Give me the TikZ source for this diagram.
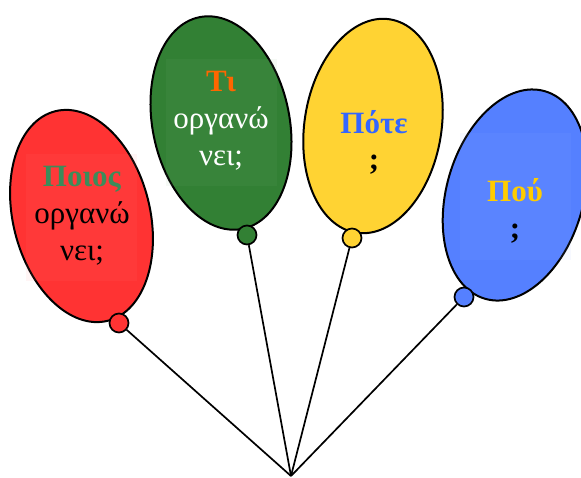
\documentclass[tikz,border=0pt]{standalone}
\usepackage{fontspec}
\setmainfont{Liberation Serif}
\usetikzlibrary{shapes.geometric}
\definecolor{balloonred}{RGB}{255,51,51}
\definecolor{balloongreen}{RGB}{50,128,52}
\definecolor{balloonyellow}{RGB}{255,211,51}
\definecolor{balloonblue}{RGB}{85,128,255}
\definecolor{whogreen}{RGB}{60,140,90}
\definecolor{whatorange}{RGB}{255,102,0}
\definecolor{whenblue}{RGB}{51,102,255}
\definecolor{wheregold}{RGB}{255,204,0}
\begin{document}
\begin{tikzpicture}[x=1pt, y=-1pt,
    balloon/.style={draw, ellipse, line width=2pt, inner sep=0pt, minimum width=137pt, minimum height=216pt},
    knot/.style={draw, circle, line width=1.7pt, inner sep=0pt, minimum size=19pt},
    string/.style={line width=1.7pt},
    textbox/.style={rectangle, inner sep=0pt, minimum width=111pt, minimum height=127pt, fill opacity=0.08},
    words/.style={align=center, inner sep=0pt, font=\fontsize{31}{37}\selectfont}]
        \useasboundingbox (0,0) rectangle (581,477);

        % Balloons
        \node[balloon, fill=balloonred, rotate=14] (who) at (81.5,216) {};
        \node[balloon, fill=balloongreen, rotate=11.5] (what) at (221,123) {};
        \node[balloon, fill=balloonyellow, rotate=-9] (when) at (373,126) {};
        \node[balloon, fill=balloonblue, rotate=-16] (where) at (515,195) {};

        % Faint text boxes
        \node[textbox, fill=balloonred!60] (whobox) at (81.5,217) {};
        \node[textbox, fill=balloongreen!60] (whatbox) at (221.5,122) {};
        \node[textbox, fill=balloonblue!60] (wherebox) at (515.5,196.5) {};

        % Knots
        \node[knot, fill=balloonred] (whoknot) at (119,323) {};
        \node[knot, fill=balloongreen] (whatknot) at (247,235) {};
        \node[knot, fill=balloonyellow] (whenknot) at (352,238) {};
        \node[knot, fill=balloonblue] (whereknot) at (464,297) {};

        % Questions
        \node[words] (whotext) at (82,216) {\textcolor{whogreen}{\textbf{Ποιος}}\\οργανώ\\νει;};
        \node[words, text=white] (whattext) at (221,121) {\textcolor{whatorange}{\textbf{Τι}}\\οργανώ\\νει;};
        \node[words, font=\fontsize{31}{36}\selectfont\bfseries] (whentext) at (374,142) {\textcolor{whenblue}{Πότε}\\;};
        \node[words, font=\fontsize{31}{37}\selectfont\bfseries] (wheretext) at (515,211) {\textcolor{wheregold}{Πού}\\;};

        % Strings
        \coordinate (apex) at (291,476);
        \draw[string] (apex) -- (whoknot);
        \draw[string] (apex) -- (whatknot);
        \draw[string] (apex) -- (whenknot);
        \draw[string] (apex) -- (whereknot);
    \end{tikzpicture}
\end{document}
